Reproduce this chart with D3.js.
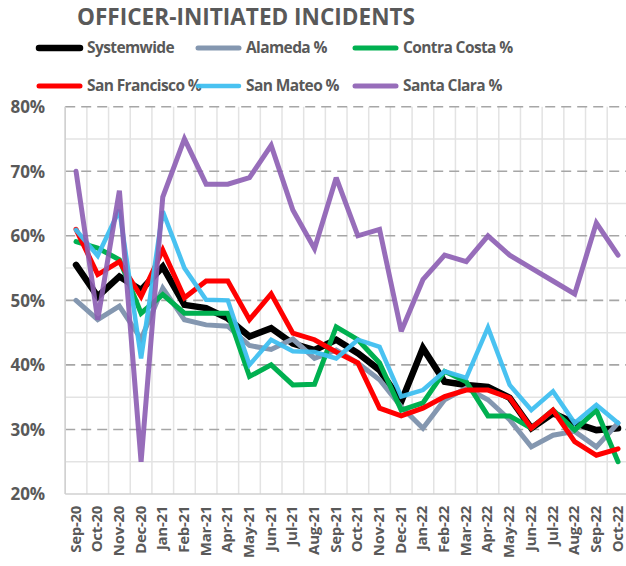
<!DOCTYPE html>
<html><head><meta charset="utf-8">
<script src="https://cdn.jsdelivr.net/npm/d3@7/dist/d3.min.js"></script>
<style>body{margin:0;background:#fff}svg{display:block}</style>
</head><body>
<script>
const months = ["Sep-20","Oct-20","Nov-20","Dec-20","Jan-21","Feb-21","Mar-21","Apr-21","May-21","Jun-21","Jul-21","Aug-21","Sep-21","Oct-21","Nov-21","Dec-21","Jan-22","Feb-22","Mar-22","Apr-22","May-22","Jun-22","Jul-22","Aug-22","Sep-22","Oct-22"];
const systemwide   = [55.5,50.6,53.7,51.6,55.2,49.3,48.8,47.2,44.4,45.7,43.3,42.3,43.9,41.8,39.2,34.3,42.6,37.4,36.9,36.6,34.9,30.2,32.5,31.0,29.9,30.2];
const alameda      = [50.0,47.0,49.1,44.0,51.9,47.0,46.2,46.0,43.0,42.4,44.0,41.0,42.3,40.3,37.7,33.5,30.2,34.6,36.4,34.6,31.5,27.3,29.1,29.7,27.3,31.0];
const contraCosta  = [59.1,58.1,56.3,48.0,50.9,48.0,48.0,48.0,38.2,40.0,36.9,37.0,45.9,43.9,40.3,33.0,34.1,39.0,37.4,32.1,32.1,30.2,33.0,29.9,33.0,25.0];
const sanFrancisco = [61.0,54.0,56.0,50.6,57.8,50.4,53.0,53.0,47.0,51.0,44.9,43.9,42.0,40.3,33.3,32.1,33.3,35.1,36.1,36.1,34.9,30.2,33.0,28.1,26.0,27.0];
const sanMateo     = [60.9,56.9,64.0,41.0,63.8,55.0,50.1,50.0,40.0,43.9,42.1,42.0,41.0,43.9,42.8,35.1,36.1,39.0,38.0,45.8,36.9,33.0,35.9,31.0,33.8,31.0];
const santaClara   = [70.0,47.0,67.0,25.0,66.0,75.0,68.0,68.0,69.0,74.0,64.0,58.0,69.0,60.0,61.0,45.2,53.2,57.0,56.0,60.0,57.0,55.0,53.0,51.0,62.0,57.0];
const seriesNames  = ["Systemwide","Alameda %","Contra Costa %","San Francisco %","San Mateo %","Santa Clara %"];
const yTicks = [20,30,40,50,60,70,80];

const series = [
  {name:seriesNames[0], values:systemwide,   color:"#000000", width:6.5, op:1},
  {name:seriesNames[1], values:alameda,      color:"#8497B0", width:5,   op:1},
  {name:seriesNames[2], values:contraCosta,  color:"#00B050", width:5,   op:1},
  {name:seriesNames[3], values:sanFrancisco, color:"#FF0000", width:5,   op:1},
  {name:seriesNames[4], values:sanMateo,     color:"#3FBFF0", width:4.5, op:0.95},
  {name:seriesNames[5], values:santaClara,   color:"#8C5DB3", width:5,   op:0.9}
];

const W = 626, H = 566;
const pLeft = 65.2, pTop = 106.7, pBottom = 494;
const band = 21.68;
const pRight = pLeft + band*months.length;
const svg = d3.select("body").append("svg").attr("width",W).attr("height",H);
const font = "'Open Sans', 'DejaVu Sans', sans-serif";
const txt = "#595959";

const x = d3.scaleBand().domain(months).range([pLeft,pRight]).padding(0);
const y = d3.scaleLinear().domain([20,80]).range([pBottom,pTop]);

const g = svg.append("g");
d3.range(25,80,10).forEach(v=>{
  g.append("line").attr("x1",pLeft).attr("x2",pRight).attr("y1",y(v)).attr("y2",y(v))
   .attr("stroke","#E3E3E3").attr("stroke-width",1.5);
});
months.forEach((m,i)=>{
  g.append("line").attr("x1",x(m)).attr("x2",x(m)).attr("y1",pTop).attr("y2",pBottom)
   .attr("stroke","#E3E3E3").attr("stroke-width",1.5);
});
g.append("line").attr("x1",pRight).attr("x2",pRight).attr("y1",pTop).attr("y2",pBottom)
   .attr("stroke","#E3E3E3").attr("stroke-width",1.5);
yTicks.filter(v=>v>20).forEach(v=>{
  g.append("line").attr("x1",pLeft).attr("x2",pRight).attr("y1",y(v)).attr("y2",y(v))
   .attr("stroke","#A6A6A6").attr("stroke-width",1.6).attr("stroke-dasharray","10,6");
});
g.append("line").attr("x1",pLeft).attr("x2",pRight).attr("y1",pBottom).attr("y2",pBottom)
  .attr("stroke","#D0D0D0").attr("stroke-width",1.5);
g.append("line").attr("x1",pLeft).attr("x2",pLeft).attr("y1",pTop).attr("y2",pBottom)
  .attr("stroke","#D0D0D0").attr("stroke-width",1.5);

const yAxis = d3.axisLeft(y).tickValues(yTicks).tickFormat(d=>d+"%").tickSize(0).tickPadding(20);
const ya = svg.append("g").attr("transform",`translate(${pLeft},0)`).call(yAxis);
ya.select(".domain").remove();
ya.selectAll("text").attr("font-family",font).attr("font-weight","bold").attr("font-size",17)
  .attr("fill",txt).attr("dy","0.35em");

const xAxis = d3.axisBottom(x).tickSize(0).tickPadding(0);
const xa = svg.append("g").attr("transform",`translate(0,${pBottom})`).call(xAxis);
xa.select(".domain").remove();
xa.selectAll("text").attr("font-family",font).attr("font-weight","bold").attr("font-size",15)
  .attr("fill",txt).attr("text-anchor","end").attr("dy",null).attr("y",0)
  .attr("letter-spacing",-0.3)
  .attr("transform","translate(4.5,12) rotate(-90)");

const line = d3.line().x((d,i)=>x(months[i])+band/2).y(d=>y(d));
const plot = svg.append("g");
series.forEach(s=>{
  plot.append("path").datum(s.values).attr("d",line).attr("fill","none")
   .attr("stroke",s.color).attr("stroke-width",s.width).attr("stroke-opacity",s.op)
   .attr("stroke-linejoin","miter").attr("stroke-miterlimit",3).attr("stroke-linecap","round");
});

svg.append("text").attr("x",246).attr("y",25).attr("text-anchor","middle")
  .attr("font-family",font).attr("font-weight","bold").attr("font-size",23).attr("fill",txt)
  .attr("textLength",338).attr("lengthAdjust","spacingAndGlyphs")
  .text("OFFICER-INITIATED INCIDENTS");

const legX = [37,196,353];
const legY = [48,86];
series.forEach((s,i)=>{
  const lx = legX[i%3], ly = legY[Math.floor(i/3)];
  svg.append("line").attr("x1",lx+2).attr("x2",lx+43).attr("y1",ly).attr("y2",ly)
    .attr("stroke",s.color).attr("stroke-width",s.width).attr("stroke-linecap","round").attr("stroke-opacity",s.op);
  svg.append("text").attr("x",lx+50).attr("y",ly).attr("dy","0.35em")
    .attr("font-family",font).attr("font-weight","bold").attr("font-size",15.5).attr("fill",txt)
    .attr("letter-spacing",-0.6)
    .text(s.name);
});
</script>
</body></html>
